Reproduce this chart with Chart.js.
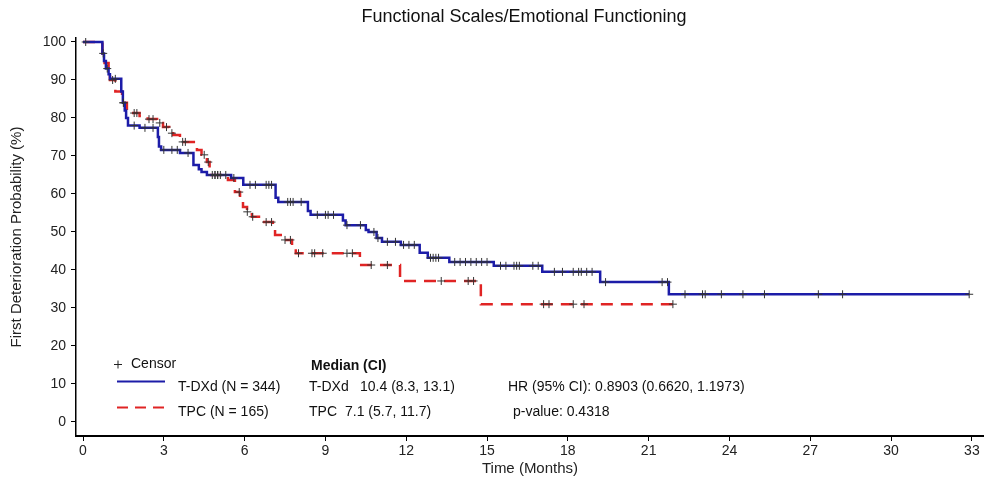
<!DOCTYPE html>
<html><head><meta charset="utf-8">
<script src="https://cdn.jsdelivr.net/npm/chart.js@4/dist/chart.umd.min.js"></script>
<style>html,body{margin:0;padding:0;background:#fff}#wrap{width:984px;height:481px;position:relative}</style>
</head><body><div id="wrap"><canvas id="c" width="984" height="481"></canvas></div>
<script>
const titleText = 'Functional Scales/Emotional Functioning';
const xTitle = 'Time (Months)';
const yTitle = 'First Deterioration Probability (%)';
const xTicks = [0, 3, 6, 9, 12, 15, 18, 21, 24, 27, 30, 33];
const yTicks = [0, 10, 20, 30, 40, 50, 60, 70, 80, 90, 100];

// T-DXd step points (time in months, probability after the step)
const tdxdTimes = [0, 0.72, 0.78, 0.85, 0.95, 1.0, 1.42, 1.48, 1.55, 1.6, 1.67, 2.1, 2.78, 2.82, 2.9, 3.6, 4.1, 4.3, 4.4, 4.6, 5.5, 5.95, 7.15, 7.25, 8.35, 8.45, 9.65, 9.75, 10.5, 10.6, 10.9, 11.1, 11.8, 12.5, 12.8, 13.6, 15.25, 17.05, 19.2, 21.75, 32.9];
const tdxdSurv  = [100, 97, 95, 93, 91.5, 90.3, 87, 84, 82, 80, 78, 77.4, 75, 72.5, 71.6, 70.8, 67.6, 66.5, 65.8, 65.0, 64.2, 62.4, 59, 57.9, 55.5, 54.5, 53, 51.8, 50.5, 50, 48.4, 47.4, 46.6, 44.5, 43.2, 42.1, 41.1, 39.5, 36.8, 33.6, 33.6];

// TPC step points
const tpcTimes = [0, 0.72, 0.8, 0.95, 1.0, 1.2, 1.45, 1.63, 1.8, 2.1, 2.4, 2.75, 2.97, 3.2, 3.35, 3.6, 4.23, 4.4, 4.6, 4.7, 5.38, 5.64, 5.83, 5.94, 6.09, 6.27, 6.64, 7.05, 7.13, 7.42, 7.76, 7.9, 10.28, 11.77, 14.77, 21.9];
const tpcSurv  = [100, 97, 94.5, 92, 90, 87, 84, 81.6, 81.3, 80.5, 79.7, 78.7, 77.6, 76, 75.5, 73.7, 71.6, 70.3, 68.4, 65, 63.7, 60.5, 57.9, 56.6, 55.3, 54, 52.6, 51, 49.2, 47.9, 46, 44.4, 41.3, 37.1, 31, 31];

// censoring times
const tdxdCensor = [0.75, 0.9, 1.2, 1.5, 1.9, 2.3, 2.6, 3.0, 3.3, 3.5, 3.9, 4.8, 4.9, 5.0, 5.3, 5.6, 6.2, 6.4, 6.8, 6.9, 7.0, 7.6, 7.7, 7.8, 8.1, 8.7, 9.0, 9.1, 9.3, 9.8, 10.3, 10.8, 10.95, 11.3, 11.6, 11.9, 12.1, 12.3, 12.9, 13.0, 13.1, 13.2, 13.8, 14.0, 14.2, 14.4, 14.6, 14.8, 15.0, 15.5, 15.7, 16.0, 16.1, 16.2, 16.7, 16.9, 17.5, 17.8, 18.2, 18.4, 18.5, 18.7, 18.9, 19.4, 21.5, 21.7, 22.35, 23.0, 23.1, 23.7, 24.5, 25.3, 27.3, 28.2, 32.9];
const tpcCensor = [0.1, 1.1, 1.5, 1.9, 2.0, 2.45, 2.6, 2.85, 3.1, 3.3, 3.7, 3.8, 4.5, 4.65, 4.9, 5.0, 5.1, 5.8, 6.1, 6.3, 6.8, 7.0, 7.5, 7.7, 8.0, 8.5, 8.6, 8.9, 9.8, 10.0, 10.7, 11.3, 13.3, 14.3, 14.5, 17.1, 17.3, 18.2, 18.6, 21.9];

const seriesNames = ['T-DXd (N = 344)', 'TPC (N = 165)'];
const censorLabel = 'Censor';
const medianHeader = 'Median (CI)';
const medianNames = ['T-DXd', 'TPC'];
const medianValues = ['10.4 (8.3, 13.1)', '7.1 (5.7, 11.7)'];
const statsLabels = ['HR (95% CI): 0.8903 (0.6620, 1.1973)', 'p-value: 0.4318'];

const BLUE = '#1c1ca8';
const RED = '#e02424';
const FONT = "'Liberation Sans', Arial, sans-serif";

function stepValue(times, surv, t) {
  let v = surv[0];
  for (let i = 0; i < times.length; i++) { if (times[i] <= t) v = surv[i]; else break; }
  return v;
}

const annot = {
  id: 'annot',
  afterDraw(chart) {
    const ctx = chart.ctx;
    ctx.save();
    ctx.fillStyle = '#111';
    ctx.textBaseline = 'middle';
    ctx.textAlign = 'center';
    ctx.font = '18px ' + FONT;
    ctx.fillText(titleText, 524, 17);
    ctx.textAlign = 'left';
    ctx.font = '14px ' + FONT;
    // censor legend
    ctx.strokeStyle = '#222'; ctx.lineWidth = 1;
    ctx.beginPath(); ctx.moveTo(114, 364.5); ctx.lineTo(122, 364.5); ctx.moveTo(118, 360.5); ctx.lineTo(118, 368.5); ctx.stroke();
    ctx.fillText(censorLabel, 131, 364);
    // series lines
    ctx.lineWidth = 2; ctx.strokeStyle = BLUE;
    ctx.beginPath(); ctx.moveTo(117, 381.5); ctx.lineTo(165, 381.5); ctx.stroke();
    ctx.strokeStyle = RED; ctx.setLineDash([11, 7]);
    ctx.beginPath(); ctx.moveTo(117, 407.5); ctx.lineTo(165, 407.5); ctx.stroke();
    ctx.setLineDash([]);
    ctx.fillText(seriesNames[0], 178, 387);
    ctx.fillText(seriesNames[1], 178, 412);
    ctx.font = 'bold 14px ' + FONT;
    ctx.fillText(medianHeader, 311, 366);
    ctx.font = '14px ' + FONT;
    ctx.fillText(medianNames[0], 309, 387);
    ctx.fillText(medianValues[0], 360, 387);
    ctx.fillText(medianNames[1], 309, 412);
    ctx.fillText(medianValues[1], 345, 412);
    ctx.fillText(statsLabels[0], 508, 387);
    ctx.fillText(statsLabels[1], 513, 412);
    ctx.restore();
  }
};

new Chart(document.getElementById('c').getContext('2d'), {
  type: 'line',
  data: {
    datasets: [
      { type: 'scatter', data: tdxdCensor.map(t => ({ x: t, y: stepValue(tdxdTimes, tdxdSurv, t) })), pointStyle: 'cross', pointRadius: 4, borderColor: '#333', borderWidth: 1, showLine: false, order: 0 },
      { type: 'scatter', data: tpcCensor.map(t => ({ x: t, y: stepValue(tpcTimes, tpcSurv, t) })), pointStyle: 'cross', pointRadius: 4, borderColor: '#333', borderWidth: 1, showLine: false, order: 0 },
      { label: 'T-DXd', data: tdxdTimes.map((t, i) => ({ x: t, y: tdxdSurv[i] })), stepped: 'before', borderColor: BLUE, borderWidth: 2.5, pointRadius: 0, fill: false, order: 1 },
      { label: 'TPC', data: tpcTimes.map((t, i) => ({ x: t, y: tpcSurv[i] })), stepped: 'before', borderColor: RED, borderDash: [12, 8], borderWidth: 2.5, pointRadius: 0, fill: false, order: 2 }
    ]
  },
  options: {
    responsive: false, animation: false, devicePixelRatio: 1,
    layout: { autoPadding: false, padding: { top: 38, left: 0, right: 0, bottom: 0 } },
    plugins: { legend: { display: false }, tooltip: { enabled: false }, title: { display: false } },
    scales: {
      x: {
        type: 'linear', min: -0.26, max: 33.45,
        afterBuildTicks: s => { s.ticks = xTicks.map(v => ({ value: v })); },
        afterFit: s => { s.height = 45; },
        grid: { drawOnChartArea: false, drawTicks: true, tickLength: 5, color: '#000', lineWidth: 1 },
        border: { display: true, color: '#000', width: 2 },
        ticks: { color: '#222', font: { family: FONT, size: 14 }, padding: 2, maxRotation: 0, autoSkip: false },
        title: { display: true, text: xTitle, color: '#222', font: { family: FONT, size: 15 }, padding: { top: 0, bottom: 3 } }
      },
      y: {
        type: 'linear', min: -3.7, max: 101.05,
        afterBuildTicks: s => { s.ticks = yTicks.map(v => ({ value: v })); },
        afterFit: s => { s.width = 76; },
        grid: { drawOnChartArea: false, drawTicks: true, tickLength: 5, color: '#000', lineWidth: 1 },
        border: { display: true, color: '#000', width: 1.5 },
        ticks: { color: '#222', font: { family: FONT, size: 14 }, padding: 5, autoSkip: false },
        title: { display: true, text: yTitle, color: '#222', font: { family: FONT, size: 15 }, padding: { top: 8, bottom: 0 } }
      }
    }
  },
  plugins: [annot]
});
</script>
</body></html>
